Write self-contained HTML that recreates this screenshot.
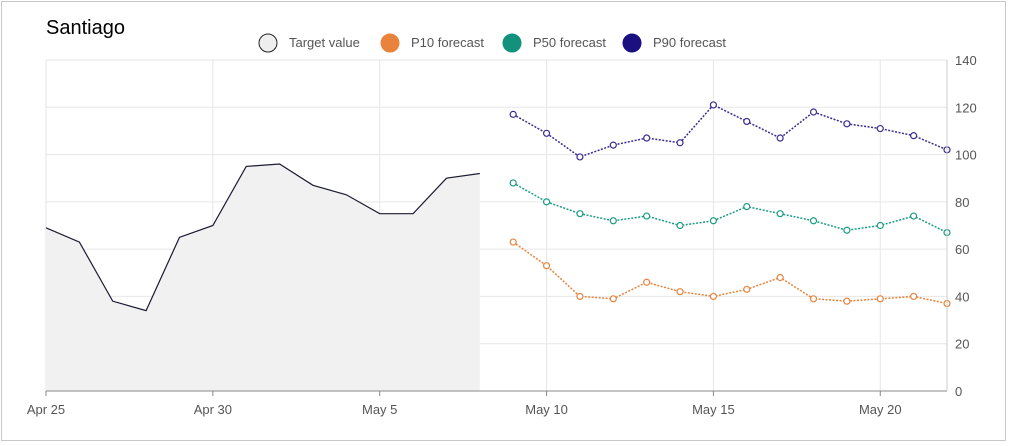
<!DOCTYPE html>
<html><head><meta charset="utf-8"><style>
body{margin:0;background:#fff;font-family:"Liberation Sans",sans-serif;}
svg{display:block}
</style></head><body>
<svg id="chart" width="1009" height="446">
<rect x="1.5" y="1.5" width="1004" height="439" fill="#fff" stroke="#c8c8c8"/>
<text x="46" y="34" font-size="20" fill="#000">Santiago</text>
<g id="legend"></g>
<g id="grid"></g><g id="marks"></g><g id="axes"></g>
</svg>
<script>
const targetValues=[69,63,38,34,65,70,95,96,87,83,75,75,90,92];
const p90Values=[117,109,99,104,107,105,121,114,107,118,113,111,108,102];
const p50Values=[88,80,75,72,74,70,72,78,75,72,68,70,74,67];
const p10Values=[63,53,40,39,46,42,40,43,48,39,38,39,40,37];
const yTicks=[0,20,40,60,80,100,120,140];
const xTickLabels=["Apr 25","Apr 30","May 5","May 10","May 15","May 20"];
const xTickDays=[0,5,10,15,20,25];
const forecastStartDay=14;
const NS="http://www.w3.org/2000/svg";
const X0=46,X1=947,Y0=391,Y1=60,totalDays=27;
const x=d=>X0+(X1-X0)*d/totalDays;
const y=v=>Y0-(Y0-Y1)*v/140;
function mk(tag,attrs,parent){const e=document.createElementNS(NS,tag);for(const k in attrs)e.setAttribute(k,attrs[k]);parent.appendChild(e);return e;}
const grid=document.getElementById('grid'),marks=document.getElementById('marks'),axes=document.getElementById('axes'),legend=document.getElementById('legend');
yTicks.forEach(v=>{
 const l=mk('line',{x1:X0,x2:X1,y1:y(v),y2:y(v),stroke:'#e6e6e6'},grid);
 
 
 const t=mk('text',{x:X1+8,y:y(v)+5,'font-size':13,fill:'#555'},axes);t.textContent=v;
 
 
});
xTickDays.forEach((d,i)=>{
 const l=mk('line',{x1:x(d),x2:x(d),y1:Y1,y2:Y0,stroke:'#e6e6e6'},grid);
 
 
 const tk=mk('line',{x1:x(d),x2:x(d),y1:Y0,y2:Y0+5,stroke:'#888'},axes);
 
 
 const t=mk('text',{x:x(d),y:Y0+23,'font-size':13,fill:'#555','text-anchor':'middle'},axes);t.textContent=xTickLabels[i];
 
 
});
const ax=mk('line',{x1:X0,x2:X1,y1:Y0,y2:Y0,stroke:'#888'},axes);


const ay=mk('line',{x1:X1,x2:X1,y1:Y1,y2:Y0,stroke:'#ccc'},axes);


// target area
let pts=targetValues.map((v,i)=>x(i)+','+y(v));
const area=mk('polygon',{points:x(0)+','+Y0+' '+pts.join(' ')+' '+x(targetValues.length-1)+','+Y0,fill:'#f1f1f1'},marks);


const tl=mk('polyline',{points:pts.join(' '),fill:'none',stroke:'#1a1a33','stroke-width':1.2},marks);


function series(vals,color,name){
 const p=vals.map((v,i)=>x(forecastStartDay+i)+','+y(v)).join(' ');
 const pl=mk('polyline',{points:p,fill:'none',stroke:color,'stroke-width':1.5,'stroke-dasharray':'2,1.5'},marks);
 
 
 vals.forEach((v,i)=>{
  const c=mk('circle',{cx:x(forecastStartDay+i),cy:y(v),r:3,fill:'#fff',stroke:color,'stroke-width':1.2},marks);
  
  
 });
}
series(p90Values,'#3b2c8f','p90');
series(p50Values,'#1a9c84','p50');
series(p10Values,'#e8823c','p10');
const leg=[['Target value','#eeeeee','#222',268],['P10 forecast','#e8823c','#e8823c',390],['P50 forecast','#13917c','#13917c',512],['P90 forecast','#1a1080','#1a1080',632]];
leg.forEach(([lab,f,s,cx])=>{
 const c=mk('circle',{cx:cx,cy:43,r:9,fill:f,stroke:s,'stroke-width':1},legend);
 
 
 const t=mk('text',{x:cx+21,y:47,'font-size':13,fill:'#555'},legend);t.textContent=lab;
 
 
});
</script>
</body></html>
